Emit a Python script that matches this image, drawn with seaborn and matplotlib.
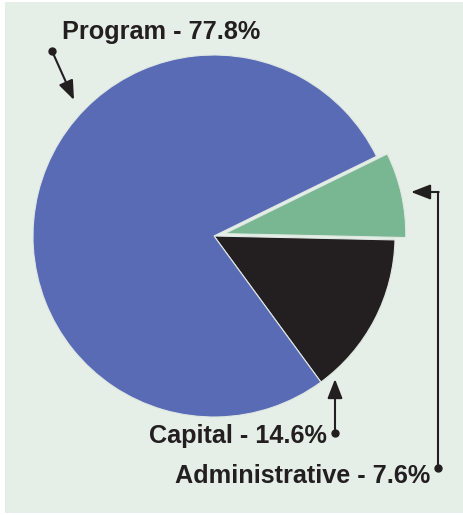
import matplotlib
matplotlib.use("Agg")
import matplotlib.pyplot as plt
from matplotlib.patches import Rectangle
import seaborn as sns

# Data
categories = ["Capital", "Administrative", "Program"]
shares = [14.6, 7.6, 77.8]
label_texts = ["Capital - 14.6%", "Administrative - 7.6%", "Program - 77.8%"]

sns.set_style("white")
plt.rcParams['font.family'] = ['Liberation Sans', 'DejaVu Sans']

colors = sns.color_palette(["#231f20", "#79b793", "#5a6bb5"])
bg = "#e5efe7"

W, H = 463, 515
fig = plt.figure(figsize=(W / 100, H / 100), dpi=100, facecolor="white")
ax = fig.add_axes([0, 0, 1, 1])

def Y(y):
    return H - y

ax.add_patch(Rectangle((5, Y(513)), W - 5, 511, facecolor=bg, edgecolor="none", zorder=0))

cx, cy, r = 214, Y(236), 181
ax.pie(shares, colors=colors, explode=[0, 11, 0], startangle=-53.8,
       counterclock=True, center=(cx, cy), radius=r, frame=True,
       wedgeprops=dict(edgecolor="#dfe8e2", linewidth=0.8))
ax.set_xlim(0, W)
ax.set_ylim(0, H)
ax.set_aspect("equal")
ax.axis("off")

fs = 18.2
tk = dict(fontsize=fs, fontweight="bold", color="#231f20", va="baseline", ha="left")
ax.text(62, Y(39), label_texts[2], **tk)
ax.text(327, Y(443), label_texts[0], **dict(tk, ha="right"))
ax.text(430, Y(483), label_texts[1], **dict(tk, ha="right"))

ap = dict(arrowstyle="-|>,head_length=0.9,head_width=0.35", color="#231f20",
          lw=1.5, shrinkA=0, shrinkB=0, mutation_scale=13)
# Program
ax.plot([52], [Y(51)], "o", color="#231f20", ms=5)
ax.annotate("", xy=(74, Y(100)), xytext=(52, Y(51)), arrowprops=ap)
# Capital
ax.plot([335], [Y(433)], "o", color="#231f20", ms=5)
ax.annotate("", xy=(335, Y(379)), xytext=(335, Y(433)), arrowprops=ap)
# Administrative
ax.plot([438], [Y(468)], "o", color="#231f20", ms=5)
ax.plot([438, 438], [Y(468), Y(192)], color="#231f20", lw=1.5, solid_capstyle="butt")
ax.annotate("", xy=(411, Y(192)), xytext=(438.7, Y(192)), arrowprops=ap)

fig.savefig("out.png", dpi=100, facecolor="white")
